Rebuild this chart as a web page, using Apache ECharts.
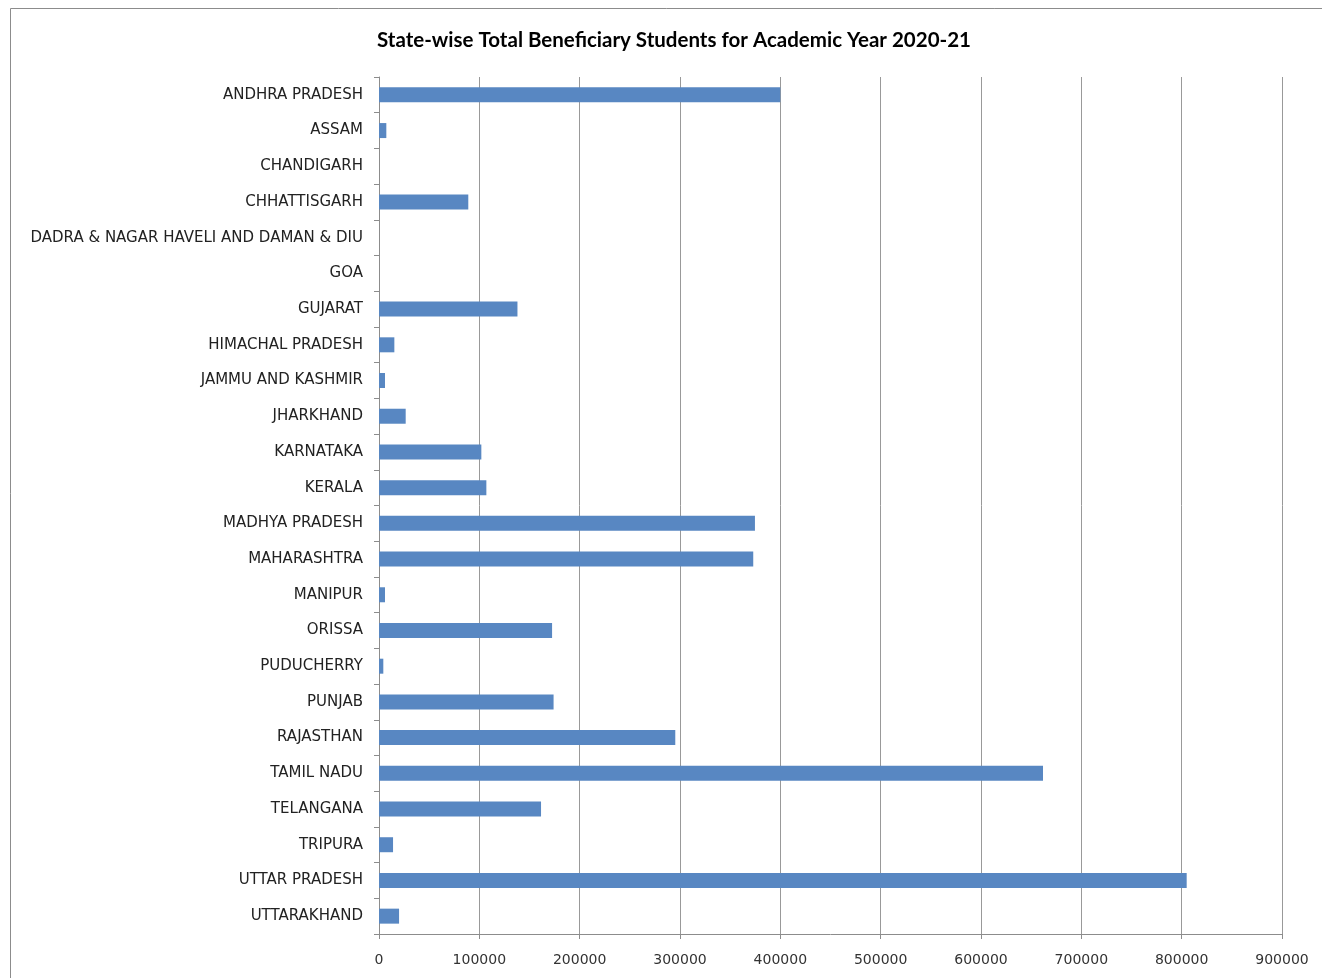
<!DOCTYPE html>
<html>
<head>
<meta charset="utf-8">
<script src="https://cdn.jsdelivr.net/npm/echarts@6/dist/echarts.min.js"></script>
<style>
  html, body { margin: 0; padding: 0; background: #fff; }
  #chart { width: 1322px; height: 978px; }
</style>
</head>
<body>
<div id="chart"></div>
<script>
var states = [
    'ANDHRA PRADESH', 'ASSAM', 'CHANDIGARH', 'CHHATTISGARH',
    'DADRA & NAGAR HAVELI AND DAMAN & DIU', 'GOA', 'GUJARAT',
    'HIMACHAL PRADESH', 'JAMMU AND KASHMIR', 'JHARKHAND', 'KARNATAKA',
    'KERALA', 'MADHYA PRADESH', 'MAHARASHTRA', 'MANIPUR', 'ORISSA',
    'PUDUCHERRY', 'PUNJAB', 'RAJASTHAN', 'TAMIL NADU', 'TELANGANA',
    'TRIPURA', 'UTTAR PRADESH', 'UTTARAKHAND'
];
var students = [
    400000, 7300, 0, 89000,
    0, 0, 138000,
    15300, 6000, 26600, 102000,
    107000, 374700, 373000, 6000, 172500,
    4300, 174000, 295300, 661800, 161500,
    14000, 805000, 20000
];
var xTicks = [0, 100000, 200000, 300000, 400000, 500000, 600000, 700000, 800000, 900000];

var chart = echarts.init(document.getElementById('chart'));

var option = {
    animation: false,
    backgroundColor: '#ffffff',
    title: {
        text: 'State-wise Total Beneficiary Students for Academic Year 2020-21',
        left: 669,
        top: 25,
        textAlign: 'center',
        textStyle: {
            fontFamily: 'Lato',
            fontSize: 20.5,
            fontWeight: 'bold',
            color: '#000'
        }
    },
    graphic: [{
        type: 'rect',
        shape: { x: 10.5, y: 8.5, width: 1322, height: 980 },
        style: { fill: 'none', stroke: '#8c8c8c', lineWidth: 1 },
        silent: true
    }],
    grid: {
        left: 379,
        right: 40,
        top: 77,
        bottom: 44
    },
    xAxis: {
        type: 'value',
        min: xTicks[0],
        max: xTicks[xTicks.length - 1],
        interval: 100000,
        axisLine: { show: true, lineStyle: { color: '#8c8c8c' } },
        axisTick: { show: true, length: 5, lineStyle: { color: '#8c8c8c' } },
        axisLabel: {
            margin: 19,
            fontFamily: 'DejaVu Sans',
            fontSize: 14,
            color: '#333',
            formatter: function (v) { return String(v); }
        },
        splitLine: { show: true, lineStyle: { color: '#999999', width: 1 } }
    },
    yAxis: {
        type: 'category',
        data: states,
        inverse: true,
        axisLine: { show: true, lineStyle: { color: '#8c8c8c' } },
        axisTick: { show: true, length: 5, lineStyle: { color: '#8c8c8c' } },
        axisLabel: {
            margin: 16,
            fontFamily: 'DejaVu Sans',
            fontSize: 15,
            color: '#222'
        }
    },
    series: [{
        type: 'bar',
        data: students,
        barCategoryGap: '58%',
        itemStyle: {
            color: '#5887c2'
        }
    }]
};

chart.setOption(option);
</script>
</body>
</html>
